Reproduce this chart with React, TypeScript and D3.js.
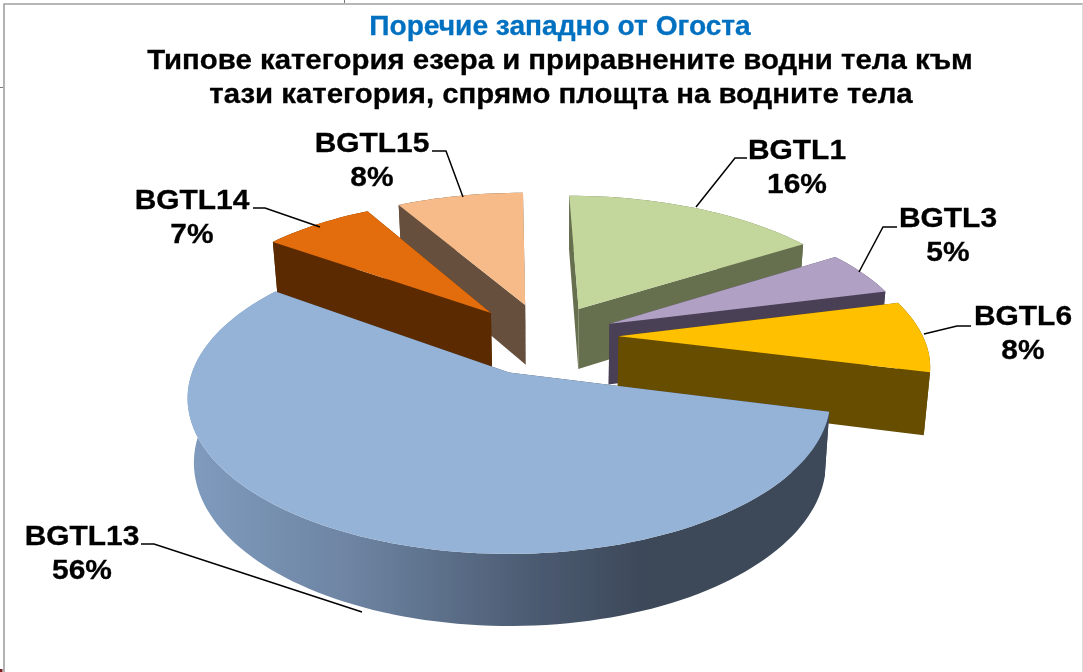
import React from "react";
import * as d3 from "d3";

const categories = ["BGTL1", "BGTL3", "BGTL6", "BGTL13", "BGTL14", "BGTL15"];
const shares = [16, 5, 8, 56, 7, 8];

const topColors = ["#C3D69B", "#B0A0C4", "#FFC000", "#95B3D7", "#E36C09", "#F6BB88"];
const wallColors = ["#66704F", "#4A3F57", "#664D00", "#3C4858", "#5C2C00", "#66503C"];
const outerColors = ["#66704F", "#4A3F57", "#664D00", "url(#blueWall)", "#5C2C00", "#66503C"];
// ground-plane shift of each exploded slice's apex
const explodeX = [0.236, 0.335, 0.36, 0, -0.061, 0.055];
const explodeY = [-0.461, -0.35, -0.26, -0.01, -0.431, -0.492];
const paintOrder = [5, 0, 1, 2, 4, 3];

const titleLines = [
  { text: "Поречие западно от Огоста", x: 560, y: 35, size: 26.8, fill: "#0070C0" },
  { text: "Типове категория езера и приравнените водни тела към", x: 560, y: 68.5, size: 28, fill: "#000" },
  { text: "тази категория, спрямо площта на водните тела", x: 561, y: 103, size: 28, fill: "#000" },
];

const labelX = [797, 948, 1023, 82, 192, 372];
const labelY = [159, 227, 325, 545, 209, 152];
const leaderPaths = [
  [[747, 158], [735, 158], [696, 207]],
  [[897, 227], [883, 227], [859, 272]],
  [[971, 326], [957, 326], [924, 334]],
  [[141, 544], [154, 544], [362, 612]],
  [[253, 208], [265, 208], [320, 227]],
  [[432, 151], [446, 151], [463, 197]],
];

const X0 = 509, Y0 = 374, FX = 317.5, FY = 151.7, K = 0.1667;
const project = (gx: number, gy: number): [number, number] => {
  const w = 1 - K * gy;
  return [X0 + (FX * gx) / w, Y0 + (FY * gy) / w];
};
const lower = ([x, y]: [number, number]): [number, number] => [
  560 + (x - 560) * 0.983,
  y + 63 + (y - 372) * 0.05,
];

export default function App() {
  const pie = d3.pie<number>().sort(null).value((d) => d);
  const arcs = pie(shares);
  const line = d3.line();

  const slices = arcs.map((a, i) => {
    const steps = Math.max(4, Math.ceil((a.endAngle - a.startAngle) / 0.03));
    const t = d3.scaleLinear().domain([0, steps]).range([a.startAngle, a.endAngle]);
    const rim = d3.range(steps + 1).map((s) => {
      const th = t(s);
      return project(explodeX[i] + Math.sin(th), explodeY[i] - Math.cos(th));
    });
    const apex = project(explodeX[i], explodeY[i]);
    const rimLow = rim.map(lower);
    const apexLow = lower(apex);
    const quads = d3
      .range(steps)
      .map((j) => line([rim[j], rim[j + 1], rimLow[j + 1], rimLow[j]])! + "Z")
      .join("");
    return {
      top: line([apex, ...rim])! + "Z",
      outer: quads,
      wallA: line([apex, rim[0], rimLow[0], apexLow])! + "Z",
      wallB: line([apex, rim[steps], rimLow[steps], apexLow])! + "Z",
    };
  });

  return (
    <svg
      width={1083}
      height={672}
      viewBox="0 0 1083 672"
      style={{ position: "absolute", left: 0, top: 0, background: "#fff" }}
      fontFamily="'Liberation Sans', Arial, sans-serif"
    >
      <defs>
        <linearGradient id="blueWall" gradientUnits="userSpaceOnUse" x1={190} x2={650} y1={0} y2={0}>
          <stop offset="0" stopColor="#7F9BBE" />
          <stop offset="0.34" stopColor="#6E85A3" />
          <stop offset="0.76" stopColor="#4A5A70" />
          <stop offset="1" stopColor="#3C4858" />
        </linearGradient>
        <filter id="soft" x="0" y="0" width="100%" height="100%">
          <feGaussianBlur stdDeviation={0.45} />
        </filter>
      </defs>
      <path d="M4 672V4H1083" fill="none" stroke="#a0a0a0" strokeWidth={1.6} />
      <path d="M1082.5 4V672" fill="none" stroke="#dcdcdc" strokeWidth={1} />
      <path d="M344.5 0V3M0 87.5H3" fill="none" stroke="#777" strokeWidth={1} />
      <rect x={0} y={669} width={2.5} height={3} fill="#7a1f1f" />
      <g filter="url(#soft)">
        {paintOrder.map((idx) => {
          const s = slices[idx];
          return (
            <g key={categories[idx]}>
              <path d={s.wallA} fill={wallColors[idx]} />
              <path d={s.wallB} fill={wallColors[idx]} />
              <path d={s.outer} fill={outerColors[idx]} />
              <path d={s.top} fill={topColors[idx]} />
            </g>
          );
        })}
        {leaderPaths.map((p, i) => (
          <path key={i} d={line(p as [number, number][])!} fill="none" stroke="#000" strokeWidth={1.5} />
        ))}
        {titleLines.map((l) => (
          <text
            key={l.text}
            transform={`translate(${l.x},${l.y}) scale(1.05,1)`}
            textAnchor="middle"
            fontWeight={700}
            fontSize={l.size}
            fill={l.fill}
            stroke={l.fill}
            strokeWidth={0.3}
          >
            {l.text}
          </text>
        ))}
        {categories.map((c, i) => (
          <text
            key={c}
            transform={`translate(${labelX[i]},${labelY[i]}) scale(1.05,1)`}
            textAnchor="middle"
            fontWeight={700}
            fontSize={28.5}
            fill="#000"
            stroke="#000"
            strokeWidth={0.3}
          >
            <tspan x={0} y={0}>{c}</tspan>
            <tspan x={0} y={34.5}>{shares[i]}%</tspan>
          </text>
        ))}
      </g>
    </svg>
  );
}
